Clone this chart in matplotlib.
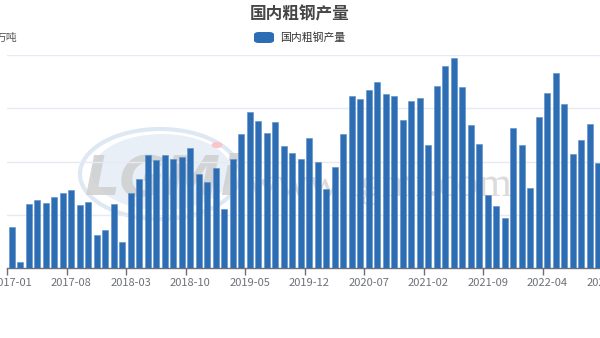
import matplotlib
matplotlib.use("Agg")
import matplotlib.pyplot as plt
from matplotlib.patches import FancyBboxPatch, Ellipse, Circle

plt.rcParams['font.family'] = ['Noto Sans CJK SC', 'DejaVu Sans']

# ---- data (万吨) ----
start_year, start_month = 2017, 1
values = [6764, 6107, 7201, 7281, 7225, 7326, 7401, 7458, 7188, 7238,
          6619, 6707, 7195, 6488, 7401, 7676, 8114, 8026, 8126, 8045,
          8083, 8257, 7764, 7613, 7870, 7101, 8045, 8508, 8921, 8758,
          8527, 8733, 8283, 8151, 8039, 8433, 7995, 7476, 7901, 8508,
          9233, 9165, 9340, 9490, 9271, 9227, 8771, 9133, 9195, 8308,
          9409, 9796, 9953, 9390, 8677, 8326, 7376, 7163, 6932, 8627,
          8302, 7501, 8833, 9283, 9664, 9083, 8145, 8395, 8696, 7976]
n_cat = 76
categories = []
for i in range(n_cat):
    y = start_year + (start_month - 1 + i) // 12
    m = (start_month - 1 + i) % 12 + 1
    categories.append(f"{y}-{m:02d}")
label_step = 7
title = "国内粗钢产量"
series_name = "国内粗钢产量"
unit = "万吨"
y_min, y_max, y_step = 6000, 10000, 1000

W, H = 600, 338
fig = plt.figure(figsize=(W / 100, H / 100), dpi=100)
fig.patch.set_facecolor('white')

def fx(px):
    return px / W

def fy(py):
    return 1 - py / H

# ---- watermark ----
fig.patches.append(Ellipse((fx(162), fy(172)), 140 / W, 76 / H, transform=fig.transFigure,
                           facecolor='#e3ecf6', edgecolor='none', alpha=0.8, zorder=-5))
fig.patches.append(Ellipse((fx(160), fy(174)), 160 / W, 90 / H, transform=fig.transFigure,
                           facecolor='none', edgecolor='#d6e3f1', lw=3, alpha=0.8, zorder=-5))
fig.patches.append(Circle((fx(217), fy(145)), 5.5 / W, transform=fig.transFigure,
                          facecolor='#f8c6c9', edgecolor='none', zorder=-4))
fig.text(fx(162), fy(180), "LGMi", ha='center', va='center', fontsize=40, fontweight='bold',
         style='italic', color='#cfcfcf', alpha=0.85, family='DejaVu Sans', zorder=-4)
fig.text(fx(380), fy(186), "www.lgmi.com", ha='center', va='center', fontsize=31,
         color='#d0d0d0', alpha=0.75, family='Liberation Serif', zorder=-4)

# ---- axes ----
left_px, axis_px, top_px = 7.3, 268, 55
unit_px = 8.5
ax = fig.add_axes([fx(left_px), (H - axis_px) / H, n_cat * unit_px / W, (axis_px - top_px) / H])
ax.patch.set_visible(False)

x = list(range(len(values)))
ax.bar(x, values, width=0.7, color='#2c6db3', edgecolor='#5b8fc9', linewidth=0.4, zorder=3)

ax.set_xlim(-0.5, n_cat - 0.5)
ax.set_ylim(y_min, y_max)
ax.set_yticks(list(range(y_min, y_max + 1, y_step)))
ax.yaxis.grid(True, color='#e6eaf2', linewidth=1, zorder=0)
ax.tick_params(axis='y', left=False, labelleft=False)

major = list(range(0, n_cat, label_step))
ax.set_xticks(major)
ax.set_xticklabels([categories[i] for i in major], fontsize=8, color='#6e7079')
ax.set_xticks([i - 0.5 for i in major], minor=True)
ax.tick_params(axis='x', which='major', length=0, pad=7)
ax.tick_params(axis='x', which='minor', length=5, color='#6e7079', width=1)

for s in ['top', 'right', 'left']:
    ax.spines[s].set_visible(False)
ax.spines['bottom'].set_color('#6e7079')
ax.spines['bottom'].set_linewidth(1)

# ---- title, legend, unit ----
fig.text(fx(300), fy(14), title, ha='center', va='center', fontsize=12,
         fontweight='bold', color='#464646')
fig.patches.append(FancyBboxPatch((fx(254), fy(43)), 20 / W, 11 / H, transform=fig.transFigure,
                                  boxstyle="round,pad=0,rounding_size=0.008",
                                  facecolor='#2c6db3', edgecolor='none'))
fig.text(fx(280), fy(37.5), series_name, ha='left', va='center', fontsize=7.8, color='#333333')
fig.text(fx(17), fy(37.5), unit, ha='right', va='center', fontsize=7.8, color='#555555')

fig.savefig("out.png", dpi=100)
